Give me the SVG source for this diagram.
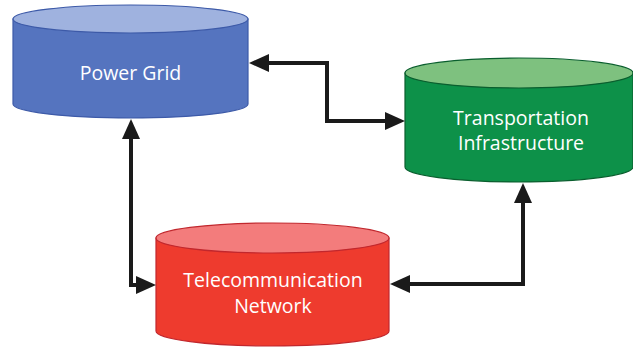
<svg xmlns="http://www.w3.org/2000/svg" width="633" height="347" viewBox="0 0 633 347">
<style>
.lbl{font-family:"Open Sans","Liberation Sans",sans-serif;font-size:19.5px;fill:#ffffff;text-anchor:middle}
.conn{fill:none;stroke:#1a1a1a;stroke-width:4;stroke-linejoin:miter}
</style>
<defs>
<marker id="ah" viewBox="0 0 20 18" refX="10" refY="9" markerWidth="20" markerHeight="18" markerUnits="userSpaceOnUse" orient="auto-start-reverse">
<path d="M0,0 L20,9 L0,18 Z" fill="#1a1a1a"/>
</marker>
</defs>
<rect width="633" height="347" fill="#ffffff"/>
<g id="power-grid">
<path d="M13,19 L13,104 A117.5,14 0 0 0 248,104 L248,19 Z" fill="#5574bf" stroke="#3d5aa8" stroke-width="1.2"/>
<ellipse cx="130.5" cy="19" rx="117.5" ry="14" fill="#9fb2df" stroke="#3d5aa8" stroke-width="1.2"/>
<text class="lbl" x="130.5" y="80">Power Grid</text>
</g>
<g id="transportation">
<path d="M405,73 L405,167 A114,15 0 0 0 633,167 L633,73 Z" fill="#0d9149" stroke="#0a5e2e" stroke-width="1.2"/>
<ellipse cx="519" cy="73" rx="114" ry="15" fill="#7ec17f" stroke="#0a5e2e" stroke-width="1.2"/>
<text class="lbl" x="521" y="125">Transportation</text>
<text class="lbl" x="521" y="150">Infrastructure</text>
</g>
<g id="telecommunication">
<path d="M156,238 L156,331 A116.5,15 0 0 0 389,331 L389,238 Z" fill="#ee3b2e" stroke="#c1272d" stroke-width="1.2"/>
<ellipse cx="272.5" cy="238" rx="116.5" ry="15" fill="#f37c7c" stroke="#c1272d" stroke-width="1.2"/>
<text class="lbl" x="273" y="287">Telecommunication</text>
<text class="lbl" x="273" y="313">Network</text>
</g>
<g id="connectors">
<path class="conn" d="M259,63 H327 V121 H395" marker-start="url(#ah)" marker-end="url(#ah)"/>
<path class="conn" d="M131,129 V285 H146" marker-start="url(#ah)" marker-end="url(#ah)"/>
<path class="conn" d="M400,284 H523 V193" marker-start="url(#ah)" marker-end="url(#ah)"/>
</g>
</svg>
